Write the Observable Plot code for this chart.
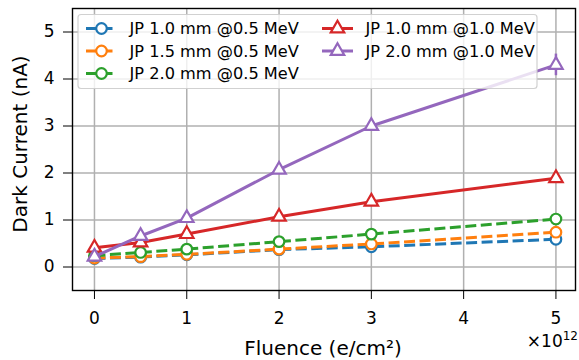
<!DOCTYPE html>
<html>
<head>
<meta charset="utf-8">
<script src="https://cdn.jsdelivr.net/npm/d3@7"></script>
<script src="https://cdn.jsdelivr.net/npm/@observablehq/plot@0.6"></script>
<style>
  html, body { margin: 0; padding: 0; background: #fff; }
  svg { font-family: "DejaVu Sans", sans-serif; }
</style>
</head>
<body>
<div id="chart"></div>
<script>
const fluence = [0, 0.5, 1, 2, 3, 5];
const seriesNames = [
  "JP 1.0 mm @0.5 MeV",
  "JP 1.5 mm @0.5 MeV",
  "JP 2.0 mm @0.5 MeV",
  "JP 1.0 mm @1.0 MeV",
  "JP 2.0 mm @1.0 MeV"
];
const jp10_05 = [0.18, 0.21, 0.26, 0.37, 0.43, 0.59];
const jp15_05 = [0.19, 0.22, 0.27, 0.38, 0.49, 0.74];
const jp20_05 = [0.24, 0.31, 0.38, 0.54, 0.70, 1.02];
const jp10_10 = [0.41, 0.52, 0.70, 1.07, 1.39, 1.89];
const jp20_10 = [0.22, 0.66, 1.04, 2.07, 3.00, 4.30];
const jp20_10_err = [0, 0, 0, 0, 0, 0.23];
const xTicks = [0, 1, 2, 3, 4, 5];
const yTicks = [0, 1, 2, 3, 4, 5];
const xLabel = "Fluence (e/cm²)";
const yLabel = "Dark Current (nA)";
const xExponent = "12";
const colors = ["#1f77b4", "#ff7f0e", "#2ca02c", "#d62728", "#9467bd"];
const markers = ["circle", "circle", "circle", "triangle", "triangle"];
const dashed = [true, true, true, false, false];

const allValues = [jp10_05, jp15_05, jp20_05, jp10_10, jp20_10];
const series = allValues.map((vals, i) => ({
  name: seriesNames[i], color: colors[i], marker: markers[i], dashed: dashed[i],
  data: fluence.map((f, j) => ({x: f, y: vals[j], err: i === 4 ? jp20_10_err[j] : 0}))
}));

const DASH = "11,4.5";
const R_CIRCLE = 5.3, R_TRI = 5.0;

const marks = [
  Plot.gridX(xTicks, {stroke: "#b0b0b0", strokeOpacity: 1, strokeWidth: 1.5}),
  Plot.gridY(yTicks, {stroke: "#b0b0b0", strokeOpacity: 1, strokeWidth: 1.5}),
];
series.forEach(s => {
  marks.push(Plot.ruleX(s.data.filter(d => d.err > 0), {x: "x", y1: d => d.y - d.err, y2: d => d.y + d.err, stroke: s.color, strokeWidth: 2.5}));
  marks.push(Plot.line(s.data, {x: "x", y: "y", stroke: s.color, strokeWidth: 3,
    strokeDasharray: s.dashed ? DASH : null, strokeLinecap: "butt"}));
  marks.push(Plot.dot(s.data, {x: "x", y: "y", symbol: s.marker, r: s.marker === "circle" ? R_CIRCLE : R_TRI,
    stroke: s.color, fill: "white", strokeWidth: 2.2}));
});
marks.push(
  Plot.frame({stroke: "black", strokeWidth: 1.4}),
  Plot.axisX(xTicks, {tickSize: 9, tickPadding: 12, fontSize: 17, tickFormat: d => String(d), label: null}),
  Plot.axisY(yTicks, {tickSize: 9, tickPadding: 9, fontSize: 17, tickFormat: d => String(d), label: null})
);

const chart = Plot.plot({
  width: 579, height: 360,
  marginLeft: 72, marginRight: 4, marginTop: 8, marginBottom: 70,
  style: {fontFamily: "DejaVu Sans, sans-serif", color: "black", overflow: "visible"},
  x: {domain: [-0.238, 5.212], type: "linear"},
  y: {domain: [-0.5, 5.5], type: "linear"},
  marks
});

const svg = d3.select(chart);
// Axis labels
svg.append("text").attr("x", 323).attr("y", 355).attr("text-anchor", "middle")
  .attr("font-size", 20).attr("fill", "black").text(xLabel);
svg.append("text").attr("transform", "translate(27,144) rotate(-90)").attr("text-anchor", "middle")
  .attr("font-size", 20).attr("fill", "black").text(yLabel);
const ex = svg.append("text").attr("x", 578).attr("y", 347).attr("text-anchor", "end")
  .attr("font-size", 17).attr("fill", "black");
ex.append("tspan").text("×10");
ex.append("tspan").attr("font-size", 12).attr("dy", -7).text(xExponent);

// Legend drawn inside the plot area
const lg = svg.append("g").attr("font-family", "DejaVu Sans, sans-serif").attr("font-size", 16.2);
lg.append("rect").attr("x", 78).attr("y", 14.5).attr("width", 459).attr("height", 74).attr("rx", 3)
  .attr("fill", "white").attr("fill-opacity", 0.8).attr("stroke", "#cccccc").attr("stroke-opacity", 0.9).attr("stroke-width", 1.2);
const colX = [86, 322];
const rowY = [28.5, 51, 73.5];
series.forEach((s, i) => {
  const col = i < 3 ? 0 : 1;
  const row = i < 3 ? i : i - 3;
  const x0 = colX[col], y0 = rowY[row];
  lg.append("line").attr("x1", x0).attr("x2", x0 + 31).attr("y1", y0).attr("y2", y0)
    .attr("stroke", s.color).attr("stroke-width", 3).attr("stroke-dasharray", s.dashed ? DASH : null);
  const sym = d3.symbol(s.marker === "circle" ? d3.symbolCircle : d3.symbolTriangle,
    Math.PI * Math.pow(s.marker === "circle" ? R_CIRCLE : R_TRI, 2));
  lg.append("path").attr("d", sym()).attr("transform", `translate(${x0 + 15.5},${y0})`)
    .attr("fill", "white").attr("stroke", s.color).attr("stroke-width", 2.2);
  lg.append("text").attr("x", x0 + 43.5).attr("y", y0).attr("dy", "0.36em")
    .attr("text-anchor", "start").attr("fill", "black").text(s.name);
});

document.getElementById("chart").appendChild(chart);
</script>
</body>
</html>
